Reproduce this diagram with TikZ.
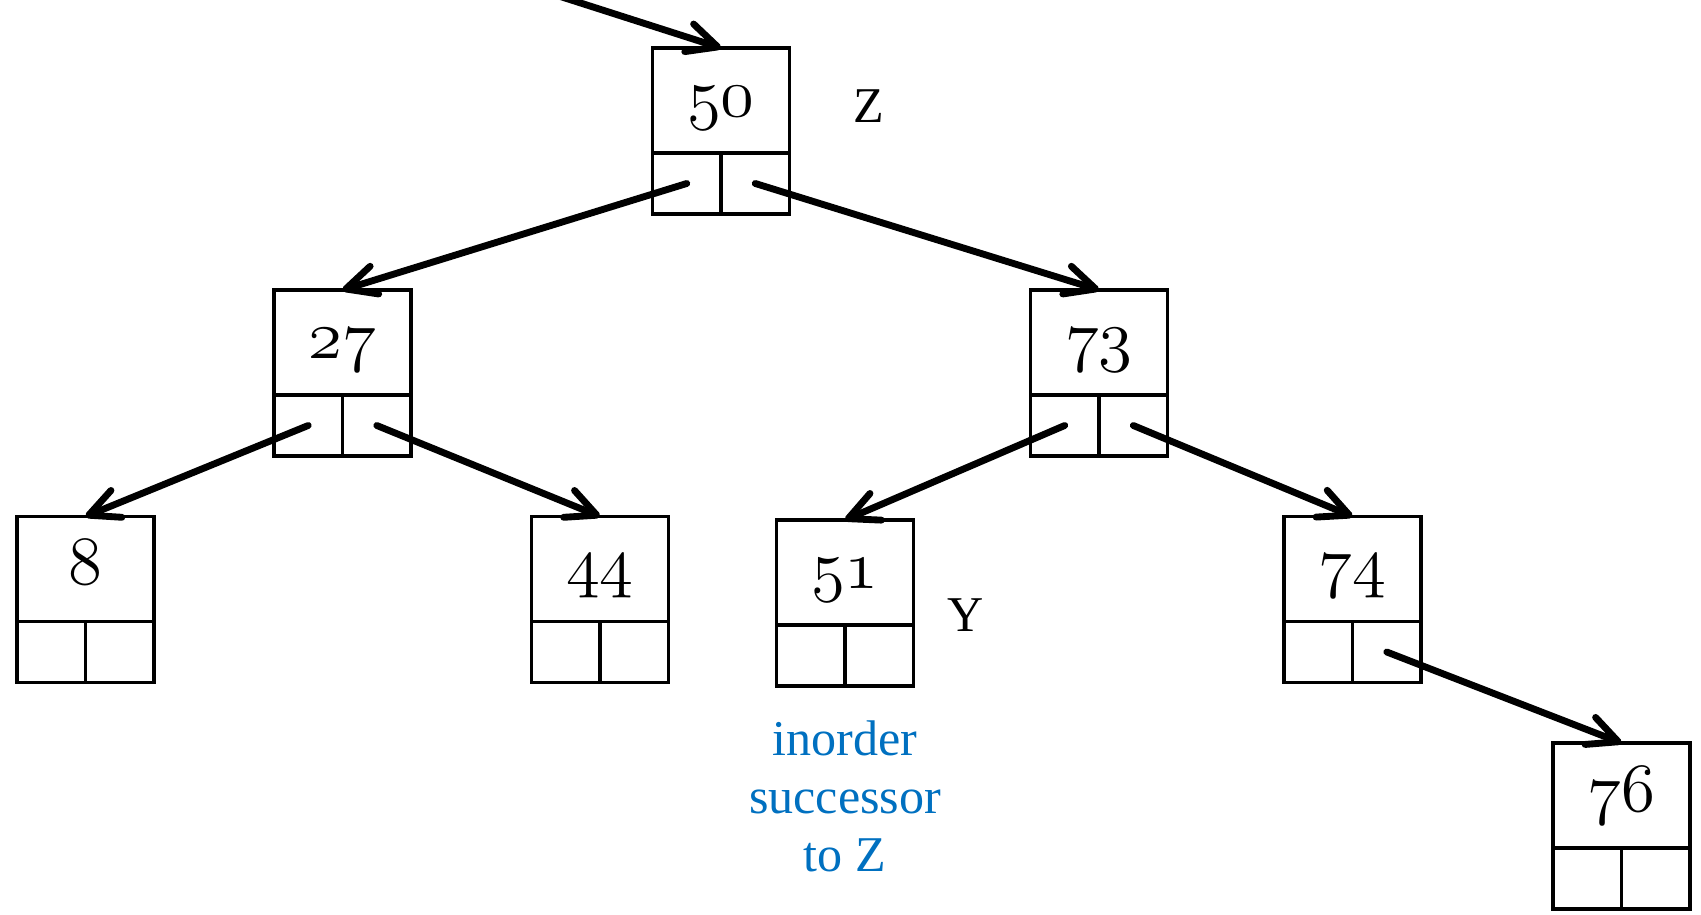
\documentclass[tikz,border=0pt]{standalone}
\usepackage{graphicx}
\usepackage{fontspec}
\setmainfont{Liberation Serif}
\usetikzlibrary{arrows.meta}
\definecolor{succblue}{HTML}{0070C0}
\tikzset{
 valbox/.style={draw, line width=2.2pt, minimum width=2.74cm, minimum height=2.1cm, inner sep=0pt, outer sep=0pt},
 cellbox/.style={draw, line width=2.2pt, minimum width=1.37cm, minimum height=1.22cm, inner sep=0pt, outer sep=0pt},
 ptr/.style={line width=3.9pt, line cap=round, -{Straight Barb[length=0.6cm, width=0.58cm, round]}},
 tag/.style={font=\fontsize{28.5}{33}\selectfont},
}
\newcommand\bstnode[4]{%
 \node[valbox] (#1) at (#2,#3) {#4};
 \node[cellbox, anchor=north east] (#1-l) at (#1.south) {};
 \node[cellbox, anchor=north west] (#1-r) at (#1.south) {};
}
\newcommand\osn[1]{\raisebox{-9pt}[0pt][0pt]{\scalebox{1.58}{\fontsize{24.88}{28}\usefont{OML}{cmm}{m}{it}#1}}}
\begin{document}
\begin{tikzpicture}[x=0.02cm, y=-0.02cm]
\useasboundingbox (0,0) rectangle (1701,915);
\bstnode{n50}{721}{100.5}{\osn{50}}
\bstnode{n27}{342.5}{342.5}{\osn{27}}
\bstnode{n73}{1099}{342.5}{\osn{73}}
\bstnode{n8}{85.5}{569}{\osn{8}}
\bstnode{n44}{600}{569}{\osn{44}}
\bstnode{n51}{845}{572.5}{\osn{51}}
\bstnode{n74}{1352.5}{569}{\osn{74}}
\bstnode{n76}{1621.5}{795.5}{\osn{76}}
\node[tag] (z) at (869,106) {Z};
\node[tag] (y) at (966,615) {Y};
\node[tag, text=succblue, align=center] (succ) at (845,796) {inorder\\successor\\to Z};
\coordinate (in) at (540,-10);
\draw[ptr] (in) -- (n50.north);
\draw[ptr] (n50-l.center) -- (n27.north);
\draw[ptr] (n50-r.center) -- (n73.north);
\draw[ptr] (n27-l.center) -- (n8.north);
\draw[ptr] (n27-r.center) -- (n44.north);
\draw[ptr] (n73-l.center) -- (n51.north);
\draw[ptr] (n73-r.center) -- (n74.north);
\draw[ptr] (n74-r.center) -- (n76.north);
\end{tikzpicture}
\end{document}
